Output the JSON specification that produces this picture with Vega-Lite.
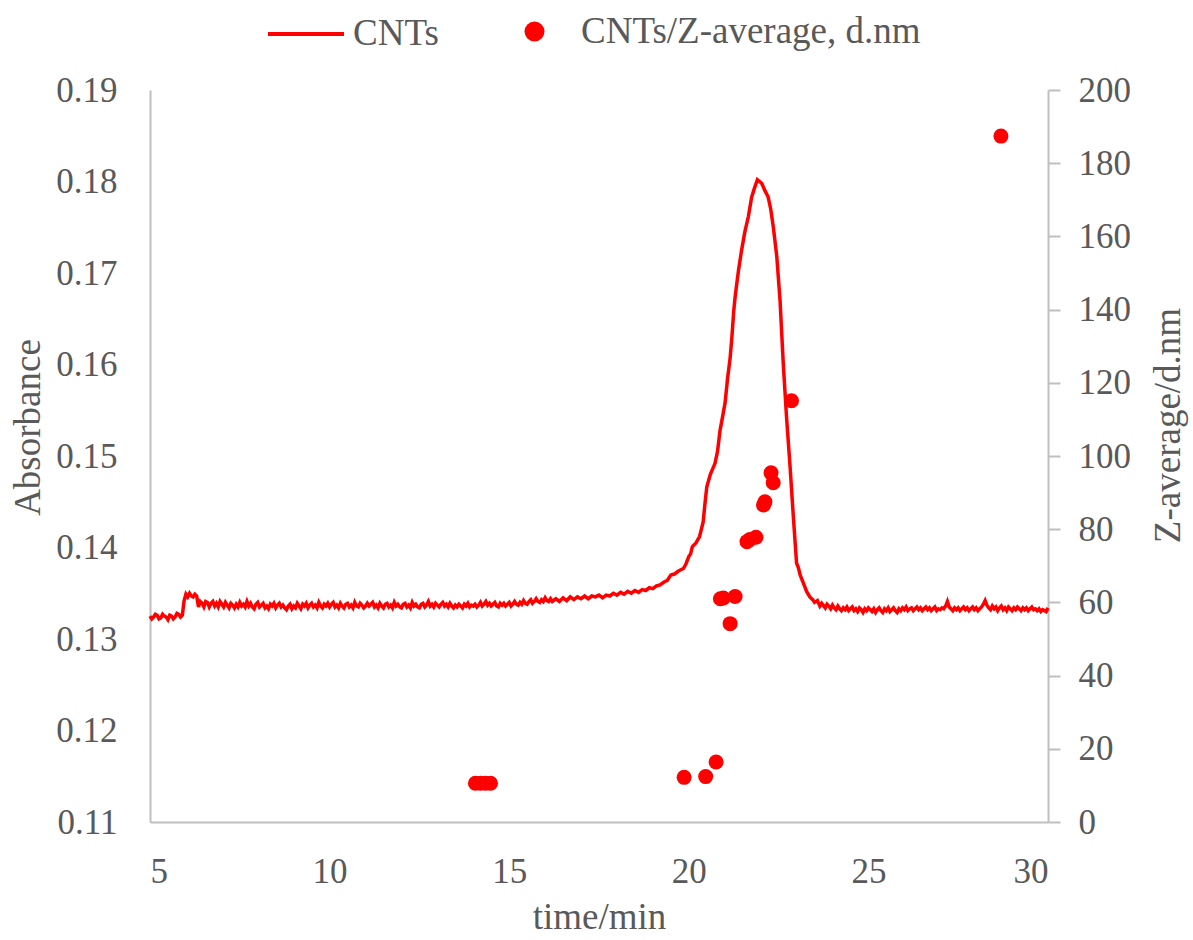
{
  "$schema": "https://vega.github.io/schema/vega-lite/v6.json",
  "width": 898,
  "height": 732,
  "autosize": "none",
  "padding": {"left": 150, "top": 90, "right": 145, "bottom": 118},
  "background": "white",
  "config": {
    "view": {"stroke": null},
    "font": "Liberation Serif",
    "axis": {"labelFont": "Liberation Serif", "titleFont": "Liberation Serif", "labelColor": "#595959", "titleColor": "#595959", "titleFontWeight": "normal", "domainColor": "#bfbfbf", "domainWidth": 2, "tickColor": "#bfbfbf", "tickWidth": 2, "grid": false},
    "legend": {"labelFont": "Liberation Serif", "labelColor": "#595959", "labelFontSize": 37, "padding": 0, "labelLimit": 0}
  },
  "datasets": {
    "abs": [
      {"t": 5.0, "a": 0.1325}, {"t": 5.05, "a": 0.1322}, {"t": 5.1, "a": 0.1324}, {"t": 5.15, "a": 0.1327}, {"t": 5.2, "a": 0.1326}, {"t": 5.25, "a": 0.1322}, {"t": 5.3, "a": 0.1323}, {"t": 5.35, "a": 0.1327}, {"t": 5.4, "a": 0.1325},
      {"t": 5.45, "a": 0.1324}, {"t": 5.5, "a": 0.1321}, {"t": 5.55, "a": 0.1326}, {"t": 5.6, "a": 0.1325}, {"t": 5.65, "a": 0.1322}, {"t": 5.7, "a": 0.1324}, {"t": 5.75, "a": 0.1328}, {"t": 5.8, "a": 0.1327}, {"t": 5.85, "a": 0.1324}, {"t": 5.9, "a": 0.1326},
      {"t": 5.95, "a": 0.1342}, {"t": 6.0, "a": 0.1349}, {"t": 6.05, "a": 0.1346}, {"t": 6.1, "a": 0.135}, {"t": 6.15, "a": 0.1347}, {"t": 6.2, "a": 0.1346}, {"t": 6.25, "a": 0.1349}, {"t": 6.3, "a": 0.1347},
      {"t": 6.35, "a": 0.1335}, {"t": 6.4, "a": 0.1341}, {"t": 6.45, "a": 0.1339}, {"t": 6.5, "a": 0.1335}, {"t": 6.55, "a": 0.1341}, {"t": 6.6, "a": 0.134}, {"t": 6.65, "a": 0.1335}, {"t": 6.7, "a": 0.1339},
      {"t": 6.75, "a": 0.1341}, {"t": 6.8, "a": 0.1336}, {"t": 6.85, "a": 0.1339}, {"t": 6.9, "a": 0.1335}, {"t": 6.95, "a": 0.1341}, {"t": 7.0, "a": 0.1338}, {"t": 7.05, "a": 0.1335}, {"t": 7.1, "a": 0.134}, {"t": 7.15, "a": 0.1337}, {"t": 7.2, "a": 0.1334},
      {"t": 7.25, "a": 0.1339}, {"t": 7.3, "a": 0.1337}, {"t": 7.35, "a": 0.1334}, {"t": 7.4, "a": 0.1338}, {"t": 7.45, "a": 0.1335}, {"t": 7.5, "a": 0.134}, {"t": 7.55, "a": 0.1336}, {"t": 7.6, "a": 0.1338}, {"t": 7.65, "a": 0.1335}, {"t": 7.7, "a": 0.1341},
      {"t": 7.75, "a": 0.1336}, {"t": 7.8, "a": 0.1339}, {"t": 7.85, "a": 0.1335}, {"t": 7.9, "a": 0.1333}, {"t": 7.95, "a": 0.1338}, {"t": 8.0, "a": 0.134}, {"t": 8.05, "a": 0.1335}, {"t": 8.1, "a": 0.1337}, {"t": 8.15, "a": 0.1339}, {"t": 8.2, "a": 0.1334},
      {"t": 8.25, "a": 0.1336}, {"t": 8.3, "a": 0.1333}, {"t": 8.35, "a": 0.1338}, {"t": 8.4, "a": 0.1336}, {"t": 8.45, "a": 0.1339}, {"t": 8.5, "a": 0.1334}, {"t": 8.55, "a": 0.1337}, {"t": 8.6, "a": 0.1339}, {"t": 8.65, "a": 0.1335}, {"t": 8.7, "a": 0.1337},
      {"t": 8.75, "a": 0.1334}, {"t": 8.8, "a": 0.1332}, {"t": 8.85, "a": 0.1336}, {"t": 8.9, "a": 0.1338}, {"t": 8.95, "a": 0.1333}, {"t": 9.0, "a": 0.1336}, {"t": 9.05, "a": 0.1334}, {"t": 9.1, "a": 0.1339}, {"t": 9.15, "a": 0.1336}, {"t": 9.2, "a": 0.1333},
      {"t": 9.25, "a": 0.1338}, {"t": 9.3, "a": 0.1336}, {"t": 9.35, "a": 0.1339}, {"t": 9.4, "a": 0.1334}, {"t": 9.45, "a": 0.1337}, {"t": 9.5, "a": 0.1339}, {"t": 9.55, "a": 0.1335}, {"t": 9.6, "a": 0.1337}, {"t": 9.65, "a": 0.1334}, {"t": 9.7, "a": 0.134},
      {"t": 9.75, "a": 0.1336}, {"t": 9.8, "a": 0.1334}, {"t": 9.85, "a": 0.1338}, {"t": 9.9, "a": 0.1336}, {"t": 9.95, "a": 0.1339}, {"t": 10.0, "a": 0.1335}, {"t": 10.05, "a": 0.1338}, {"t": 10.1, "a": 0.134}, {"t": 10.15, "a": 0.1335}, {"t": 10.2, "a": 0.1337},
      {"t": 10.25, "a": 0.1334}, {"t": 10.3, "a": 0.1339}, {"t": 10.35, "a": 0.1336}, {"t": 10.4, "a": 0.1334}, {"t": 10.45, "a": 0.1338}, {"t": 10.5, "a": 0.1339}, {"t": 10.55, "a": 0.1335}, {"t": 10.6, "a": 0.1337}, {"t": 10.65, "a": 0.1334}, {"t": 10.7, "a": 0.134},
      {"t": 10.75, "a": 0.1336}, {"t": 10.8, "a": 0.1335}, {"t": 10.85, "a": 0.1339}, {"t": 10.9, "a": 0.1337}, {"t": 10.95, "a": 0.1334}, {"t": 11.0, "a": 0.1336}, {"t": 11.05, "a": 0.1339}, {"t": 11.1, "a": 0.1336}, {"t": 11.15, "a": 0.1338}, {"t": 11.2, "a": 0.134},
      {"t": 11.25, "a": 0.1335}, {"t": 11.3, "a": 0.1337}, {"t": 11.35, "a": 0.1334}, {"t": 11.4, "a": 0.1339}, {"t": 11.45, "a": 0.1336}, {"t": 11.5, "a": 0.1334}, {"t": 11.55, "a": 0.1338}, {"t": 11.6, "a": 0.1339}, {"t": 11.65, "a": 0.1335}, {"t": 11.7, "a": 0.1337},
      {"t": 11.75, "a": 0.1334}, {"t": 11.8, "a": 0.134}, {"t": 11.85, "a": 0.1336}, {"t": 11.9, "a": 0.1338}, {"t": 11.95, "a": 0.1335}, {"t": 12.0, "a": 0.1334}, {"t": 12.05, "a": 0.1338}, {"t": 12.1, "a": 0.1339}, {"t": 12.15, "a": 0.1335}, {"t": 12.2, "a": 0.1337},
      {"t": 12.25, "a": 0.1334}, {"t": 12.3, "a": 0.134}, {"t": 12.35, "a": 0.1336}, {"t": 12.4, "a": 0.1338}, {"t": 12.45, "a": 0.1335}, {"t": 12.5, "a": 0.1334}, {"t": 12.55, "a": 0.1338}, {"t": 12.6, "a": 0.1339}, {"t": 12.65, "a": 0.1335}, {"t": 12.7, "a": 0.1337},
      {"t": 12.75, "a": 0.1341}, {"t": 12.8, "a": 0.1336}, {"t": 12.85, "a": 0.1338}, {"t": 12.9, "a": 0.1335}, {"t": 12.95, "a": 0.1339}, {"t": 13.0, "a": 0.1337}, {"t": 13.05, "a": 0.1335}, {"t": 13.1, "a": 0.1338}, {"t": 13.15, "a": 0.134}, {"t": 13.2, "a": 0.1336},
      {"t": 13.25, "a": 0.1338}, {"t": 13.3, "a": 0.1335}, {"t": 13.35, "a": 0.1339}, {"t": 13.4, "a": 0.1336}, {"t": 13.45, "a": 0.1334}, {"t": 13.5, "a": 0.1337}, {"t": 13.55, "a": 0.1335}, {"t": 13.6, "a": 0.1338}, {"t": 13.65, "a": 0.1336}, {"t": 13.7, "a": 0.1334},
      {"t": 13.75, "a": 0.1338}, {"t": 13.8, "a": 0.1336}, {"t": 13.85, "a": 0.1339}, {"t": 13.9, "a": 0.1335}, {"t": 13.95, "a": 0.1337}, {"t": 14.0, "a": 0.1336}, {"t": 14.05, "a": 0.1338}, {"t": 14.1, "a": 0.1335}, {"t": 14.15, "a": 0.1337}, {"t": 14.2, "a": 0.134},
      {"t": 14.25, "a": 0.1336}, {"t": 14.3, "a": 0.1338}, {"t": 14.35, "a": 0.1341}, {"t": 14.4, "a": 0.1337}, {"t": 14.45, "a": 0.1339}, {"t": 14.5, "a": 0.1336}, {"t": 14.55, "a": 0.1338}, {"t": 14.6, "a": 0.134}, {"t": 14.65, "a": 0.1336}, {"t": 14.7, "a": 0.1335},
      {"t": 14.75, "a": 0.1339}, {"t": 14.8, "a": 0.1337}, {"t": 14.85, "a": 0.1339}, {"t": 14.9, "a": 0.1336}, {"t": 14.95, "a": 0.1338}, {"t": 15.0, "a": 0.134}, {"t": 15.05, "a": 0.1336}, {"t": 15.1, "a": 0.1338}, {"t": 15.15, "a": 0.1341}, {"t": 15.2, "a": 0.1338},
      {"t": 15.25, "a": 0.1337}, {"t": 15.3, "a": 0.134}, {"t": 15.35, "a": 0.1338}, {"t": 15.4, "a": 0.1342}, {"t": 15.45, "a": 0.1339}, {"t": 15.5, "a": 0.1338}, {"t": 15.55, "a": 0.1341}, {"t": 15.6, "a": 0.1343}, {"t": 15.65, "a": 0.1339}, {"t": 15.7, "a": 0.1341},
      {"t": 15.75, "a": 0.1344}, {"t": 15.8, "a": 0.1341}, {"t": 15.85, "a": 0.134}, {"t": 15.9, "a": 0.1343}, {"t": 15.95, "a": 0.1341}, {"t": 16.0, "a": 0.1345}, {"t": 16.05, "a": 0.1342}, {"t": 16.1, "a": 0.1341}, {"t": 16.15, "a": 0.1344}, {"t": 16.2, "a": 0.1341},
      {"t": 16.3, "a": 0.1344}, {"t": 16.4, "a": 0.1341}, {"t": 16.5, "a": 0.1345}, {"t": 16.6, "a": 0.1342}, {"t": 16.7, "a": 0.1346}, {"t": 16.8, "a": 0.1343}, {"t": 16.9, "a": 0.1346}, {"t": 17.0, "a": 0.1344},
      {"t": 17.1, "a": 0.1347}, {"t": 17.2, "a": 0.1344}, {"t": 17.3, "a": 0.1347}, {"t": 17.4, "a": 0.1346}, {"t": 17.5, "a": 0.1348}, {"t": 17.6, "a": 0.1345}, {"t": 17.7, "a": 0.1348}, {"t": 17.8, "a": 0.1347},
      {"t": 17.9, "a": 0.135}, {"t": 18.0, "a": 0.1348}, {"t": 18.1, "a": 0.1351}, {"t": 18.2, "a": 0.1349}, {"t": 18.3, "a": 0.1352}, {"t": 18.4, "a": 0.135}, {"t": 18.5, "a": 0.1353}, {"t": 18.6, "a": 0.1351},
      {"t": 18.7, "a": 0.1354}, {"t": 18.8, "a": 0.1353}, {"t": 18.9, "a": 0.1356}, {"t": 19.0, "a": 0.1355}, {"t": 19.1, "a": 0.1358}, {"t": 19.2, "a": 0.1359}, {"t": 19.3, "a": 0.1362}, {"t": 19.4, "a": 0.1364},
      {"t": 19.5, "a": 0.137}, {"t": 19.6, "a": 0.1371}, {"t": 19.7, "a": 0.1374}, {"t": 19.85, "a": 0.1377}, {"t": 19.92, "a": 0.1382}, {"t": 20.0, "a": 0.139}, {"t": 20.05, "a": 0.1393}, {"t": 20.1, "a": 0.1401},
      {"t": 20.2, "a": 0.1405}, {"t": 20.3, "a": 0.1412}, {"t": 20.4, "a": 0.1428}, {"t": 20.45, "a": 0.1448}, {"t": 20.5, "a": 0.1466}, {"t": 20.6, "a": 0.148},
      {"t": 20.73, "a": 0.1492}, {"t": 20.8, "a": 0.1505}, {"t": 20.87, "a": 0.1528}, {"t": 20.95, "a": 0.1545}, {"t": 21.01, "a": 0.1558},
      {"t": 21.08, "a": 0.1585}, {"t": 21.15, "a": 0.1607}, {"t": 21.2, "a": 0.163}, {"t": 21.25, "a": 0.1658}, {"t": 21.29, "a": 0.1674}, {"t": 21.38, "a": 0.1702},
      {"t": 21.47, "a": 0.1725}, {"t": 21.56, "a": 0.1745}, {"t": 21.66, "a": 0.1762}, {"t": 21.75, "a": 0.1783}, {"t": 21.83, "a": 0.1793},
      {"t": 21.91, "a": 0.1802}, {"t": 21.97, "a": 0.18}, {"t": 22.03, "a": 0.1798}, {"t": 22.12, "a": 0.179}, {"t": 22.21, "a": 0.1783},
      {"t": 22.28, "a": 0.177}, {"t": 22.35, "a": 0.1751}, {"t": 22.45, "a": 0.1718}, {"t": 22.54, "a": 0.167}, {"t": 22.63, "a": 0.1601},
      {"t": 22.72, "a": 0.1543}, {"t": 22.82, "a": 0.1488}, {"t": 22.91, "a": 0.1434}, {"t": 23.0, "a": 0.1383}, {"t": 23.05, "a": 0.1378}, {"t": 23.1, "a": 0.137},
      {"t": 23.19, "a": 0.1361}, {"t": 23.28, "a": 0.1352}, {"t": 23.37, "a": 0.1346}, {"t": 23.45, "a": 0.1343}, {"t": 23.5, "a": 0.134}, {"t": 23.58, "a": 0.1342}, {"t": 23.65, "a": 0.1336},
      {"t": 23.7, "a": 0.1339}, {"t": 23.8, "a": 0.1334}, {"t": 23.85, "a": 0.1338}, {"t": 23.9, "a": 0.1336}, {"t": 23.95, "a": 0.1333}, {"t": 24.0, "a": 0.1337}, {"t": 24.05, "a": 0.1334}, {"t": 24.1, "a": 0.1332}, {"t": 24.15, "a": 0.1336}, {"t": 24.2, "a": 0.1333},
      {"t": 24.25, "a": 0.1331}, {"t": 24.3, "a": 0.1334}, {"t": 24.35, "a": 0.1332}, {"t": 24.4, "a": 0.1335}, {"t": 24.45, "a": 0.1331}, {"t": 24.5, "a": 0.1333}, {"t": 24.55, "a": 0.1335}, {"t": 24.6, "a": 0.1331}, {"t": 24.65, "a": 0.1333}, {"t": 24.7, "a": 0.133},
      {"t": 24.75, "a": 0.1334}, {"t": 24.8, "a": 0.1332}, {"t": 24.85, "a": 0.1329}, {"t": 24.9, "a": 0.1333}, {"t": 24.95, "a": 0.1331}, {"t": 25.0, "a": 0.1334}, {"t": 25.05, "a": 0.1332}, {"t": 25.1, "a": 0.133}, {"t": 25.15, "a": 0.1333}, {"t": 25.2, "a": 0.1329},
      {"t": 25.25, "a": 0.1332}, {"t": 25.3, "a": 0.1334}, {"t": 25.35, "a": 0.1331}, {"t": 25.4, "a": 0.1329}, {"t": 25.45, "a": 0.1333}, {"t": 25.5, "a": 0.1331}, {"t": 25.55, "a": 0.1334}, {"t": 25.6, "a": 0.133}, {"t": 25.65, "a": 0.1332}, {"t": 25.7, "a": 0.1334},
      {"t": 25.75, "a": 0.1331}, {"t": 25.8, "a": 0.1329}, {"t": 25.85, "a": 0.1333}, {"t": 25.9, "a": 0.1331}, {"t": 25.95, "a": 0.1334}, {"t": 26.0, "a": 0.1332}, {"t": 26.05, "a": 0.1335}, {"t": 26.1, "a": 0.1331}, {"t": 26.15, "a": 0.1333}, {"t": 26.2, "a": 0.1334},
      {"t": 26.25, "a": 0.1331}, {"t": 26.3, "a": 0.1333}, {"t": 26.35, "a": 0.1335}, {"t": 26.4, "a": 0.1332}, {"t": 26.45, "a": 0.1334}, {"t": 26.5, "a": 0.1331}, {"t": 26.55, "a": 0.1333}, {"t": 26.6, "a": 0.1335}, {"t": 26.65, "a": 0.1332}, {"t": 26.7, "a": 0.1334},
      {"t": 26.75, "a": 0.1331}, {"t": 26.8, "a": 0.1333}, {"t": 26.85, "a": 0.1335}, {"t": 26.9, "a": 0.1331}, {"t": 26.95, "a": 0.1333}, {"t": 27.0, "a": 0.1332}, {"t": 27.05, "a": 0.1334}, {"t": 27.1, "a": 0.1333}, {"t": 27.15, "a": 0.1336}, {"t": 27.2, "a": 0.1341},
      {"t": 27.25, "a": 0.1335}, {"t": 27.3, "a": 0.1333}, {"t": 27.35, "a": 0.1331}, {"t": 27.4, "a": 0.1334}, {"t": 27.45, "a": 0.1332}, {"t": 27.5, "a": 0.1334}, {"t": 27.55, "a": 0.1331}, {"t": 27.6, "a": 0.1333}, {"t": 27.65, "a": 0.1335}, {"t": 27.7, "a": 0.1332},
      {"t": 27.75, "a": 0.1334}, {"t": 27.8, "a": 0.1331}, {"t": 27.85, "a": 0.1333}, {"t": 27.9, "a": 0.1335}, {"t": 27.95, "a": 0.1332}, {"t": 28.0, "a": 0.1334}, {"t": 28.05, "a": 0.1331}, {"t": 28.1, "a": 0.1333}, {"t": 28.15, "a": 0.1335}, {"t": 28.2, "a": 0.1338},
      {"t": 28.25, "a": 0.1342}, {"t": 28.3, "a": 0.1337}, {"t": 28.35, "a": 0.1334}, {"t": 28.4, "a": 0.1332}, {"t": 28.45, "a": 0.1336}, {"t": 28.5, "a": 0.1333}, {"t": 28.55, "a": 0.1335}, {"t": 28.6, "a": 0.1331}, {"t": 28.65, "a": 0.1334}, {"t": 28.7, "a": 0.1336},
      {"t": 28.75, "a": 0.1332}, {"t": 28.8, "a": 0.1334}, {"t": 28.85, "a": 0.1331}, {"t": 28.9, "a": 0.1335}, {"t": 28.95, "a": 0.1333}, {"t": 29.0, "a": 0.1331}, {"t": 29.05, "a": 0.1334}, {"t": 29.1, "a": 0.1332}, {"t": 29.15, "a": 0.1335}, {"t": 29.2, "a": 0.1333},
      {"t": 29.25, "a": 0.1331}, {"t": 29.3, "a": 0.1334}, {"t": 29.35, "a": 0.1332}, {"t": 29.4, "a": 0.1334}, {"t": 29.45, "a": 0.1331}, {"t": 29.5, "a": 0.1333}, {"t": 29.55, "a": 0.1335}, {"t": 29.6, "a": 0.1332}, {"t": 29.65, "a": 0.1333}, {"t": 29.7, "a": 0.1331},
      {"t": 29.75, "a": 0.1333}, {"t": 29.8, "a": 0.133}, {"t": 29.85, "a": 0.1332}, {"t": 29.9, "a": 0.1331}, {"t": 29.95, "a": 0.133}, {"t": 30.0, "a": 0.1334}
    ],
    "zavg": [
      {"t": 14.06, "z": 10.6}, {"t": 14.2, "z": 10.6}, {"t": 14.34, "z": 10.6}, {"t": 14.48, "z": 10.6},
      {"t": 19.87, "z": 12.2}, {"t": 20.47, "z": 12.4}, {"t": 20.76, "z": 16.4},
      {"t": 20.88, "z": 61.0}, {"t": 20.96, "z": 61.2}, {"t": 21.29, "z": 61.6}, {"t": 21.15, "z": 54.2},
      {"t": 21.62, "z": 76.6}, {"t": 21.7, "z": 77.2}, {"t": 21.87, "z": 77.8},
      {"t": 22.08, "z": 86.6}, {"t": 22.12, "z": 87.5}, {"t": 22.29, "z": 95.4}, {"t": 22.35, "z": 92.7},
      {"t": 22.86, "z": 115.1}, {"t": 28.69, "z": 187.4}
    ]
  },
  "encoding": {
    "x": {"field": "t", "type": "quantitative", "scale": {"domain": [5, 30], "nice": false},
      "axis": {"values": [5, 10, 15, 20, 25, 30], "ticks": false, "labelFontSize": 35, "labelPadding": 32, "title": "time/min", "titleFontSize": 37, "titlePadding": 10}}
  },
  "layer": [
    {
      "data": {"name": "abs"},
      "mark": {"type": "line", "strokeWidth": 3.5, "interpolate": "linear"},
      "encoding": {
        "y": {"field": "a", "type": "quantitative", "scale": {"domain": [0.11, 0.19], "nice": false, "zero": false},
          "axis": {"values": [0.11, 0.12, 0.13, 0.14, 0.15, 0.16, 0.17, 0.18, 0.19], "format": ".2f", "ticks": false, "labelFontSize": 35, "labelPadding": 33, "title": "Absorbance", "titleFontSize": 37, "titlePadding": 8, "titleY": 337}},
        "color": {"datum": "CNTs", "type": "nominal", "scale": {"domain": ["CNTs"], "range": ["#ff0000"]},
          "legend": {"orient": "none", "legendX": 116, "legendY": -96, "title": null, "symbolType": "stroke", "symbolSize": 5776, "symbolStrokeWidth": 4, "labelOffset": 7, "labelFontSize": 37}}
      }
    },
    {
      "data": {"name": "zavg"},
      "mark": {"type": "point", "filled": true, "opacity": 1, "size": 225, "shape": "circle"},
      "encoding": {
        "y": {"field": "z", "type": "quantitative", "scale": {"domain": [0, 200], "nice": false},
          "axis": {"orient": "right", "values": [0, 20, 40, 60, 80, 100, 120, 140, 160, 180, 200], "tickSize": 12, "labelFontSize": 35, "labelPadding": 18, "title": "Z-average/d.nm", "titleFontSize": 37, "titleAngle": 270, "titleBaseline": "top", "titlePadding": 20, "titleY": 335}},
        "color": {"datum": "CNTs/Z-average, d.nm", "type": "nominal", "scale": {"domain": ["CNTs/Z-average, d.nm"], "range": ["#ff0000"]},
          "legend": {"orient": "none", "legendX": 366, "legendY": -77, "title": null, "symbolType": "circle", "symbolSize": 400, "symbolOpacity": 1, "labelOffset": 28, "labelFontSize": 37}}
      }
    }
  ],
  "resolve": {"scale": {"y": "independent", "color": "independent"}, "legend": {"color": "independent"}}
}
